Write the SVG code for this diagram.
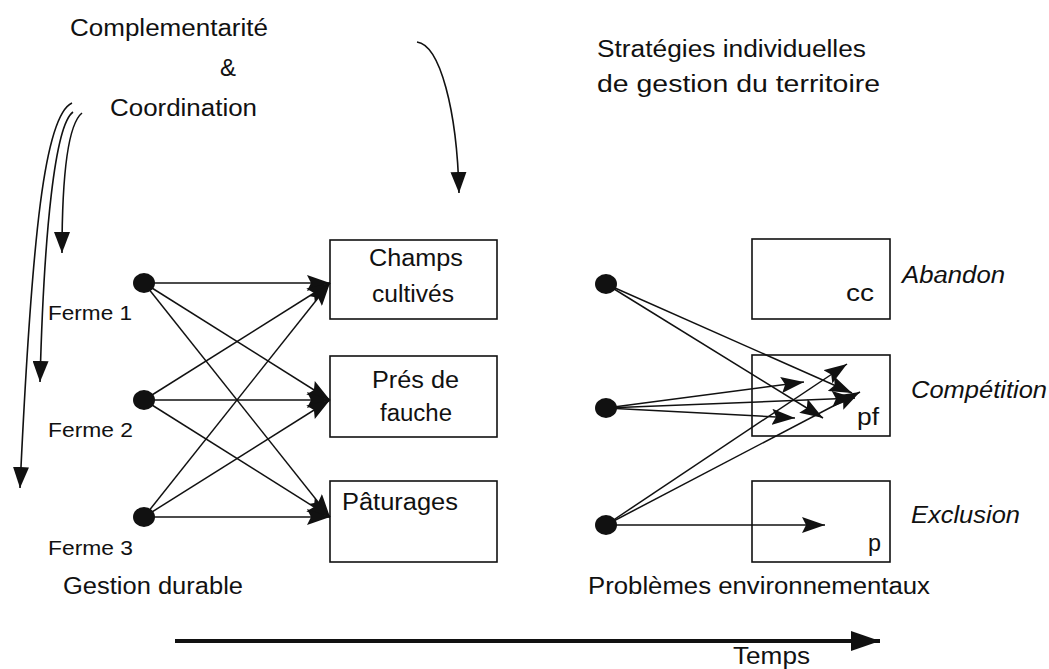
<svg xmlns="http://www.w3.org/2000/svg" width="1049" height="669" viewBox="0 0 1049 669">
<defs>
<style>
text{font-family:"Liberation Sans",Arial,sans-serif;fill:#111}
.t{font-size:23px}
.s{font-size:21px}
.i{font-size:23px;font-style:italic}
.box{fill:none;stroke:#111;stroke-width:1.6}
.dot{fill:#111}
.e{stroke:#111;stroke-width:1.5;fill:none;marker-end:url(#ah)}
.c{stroke:#111;stroke-width:1.6;fill:none;marker-end:url(#ahb)}
</style>
<marker id="ah" markerUnits="userSpaceOnUse" markerWidth="24" markerHeight="16" refX="23" refY="8" orient="auto">
<path d="M0,0 L23,8 L0,16 L4,8 z" fill="#111"/>
</marker>
<marker id="ahb" markerUnits="userSpaceOnUse" markerWidth="22" markerHeight="16" refX="21" refY="8" orient="auto">
<path d="M0,0 L21,8 L0,16 z" fill="#111"/>
</marker>
<marker id="aht" markerUnits="userSpaceOnUse" markerWidth="30" markerHeight="20" refX="29" refY="10" orient="auto">
<path d="M0,0 L29,10 L0,20 z" fill="#111"/>
</marker>
</defs>
<rect width="1049" height="669" fill="#fff"/>

<g id="titles">
<text class="t" x="70" y="36" textLength="198" lengthAdjust="spacingAndGlyphs">Complementarité</text>
<text class="t" x="220" y="76" textLength="16" lengthAdjust="spacingAndGlyphs">&amp;</text>
<text class="t" x="110" y="116" textLength="147" lengthAdjust="spacingAndGlyphs">Coordination</text>
<text class="t" x="597" y="57" textLength="269" lengthAdjust="spacingAndGlyphs">Stratégies individuelles</text>
<text class="t" x="597" y="92" textLength="283" lengthAdjust="spacingAndGlyphs">de gestion du territoire</text>
<text class="t" x="63" y="594" textLength="180" lengthAdjust="spacingAndGlyphs">Gestion durable</text>
<text class="t" x="588" y="594" textLength="342" lengthAdjust="spacingAndGlyphs">Problèmes environnementaux</text>
<text class="t" x="733" y="664" textLength="77" lengthAdjust="spacingAndGlyphs">Temps</text>
</g>

<g id="connectors">
<path class="c" d="M72,103 C45,115 32,230 20,488"/>
<path class="c" d="M73,112 C55,125 44,230 40,382"/>
<path class="c" d="M82,113 C67,125 62,180 62,253"/>
<path class="c" d="M417,42 C440,45 457,110 459,193"/>
<line x1="175" y1="641" x2="880" y2="641" stroke="#111" stroke-width="4" marker-end="url(#aht)"/>

<line class="e" x1="144" y1="283" x2="330" y2="283"/>
<line class="e" x1="144" y1="283" x2="330" y2="400"/>
<line class="e" x1="144" y1="283" x2="330" y2="517"/>
<line class="e" x1="144" y1="400" x2="330" y2="283"/>
<line class="e" x1="144" y1="400" x2="330" y2="400"/>
<line class="e" x1="144" y1="400" x2="330" y2="517"/>
<line class="e" x1="144" y1="517" x2="330" y2="283"/>
<line class="e" x1="144" y1="517" x2="330" y2="400"/>
<line class="e" x1="144" y1="517" x2="330" y2="517"/>

<line class="e" x1="606" y1="284" x2="852" y2="393"/>
<line class="e" x1="606" y1="284" x2="823" y2="418"/>
<line class="e" x1="606" y1="408" x2="804" y2="382"/>
<line class="e" x1="606" y1="408" x2="855" y2="398"/>
<line class="e" x1="606" y1="408" x2="795" y2="418"/>
<line class="e" x1="606" y1="525" x2="847" y2="364"/>
<line class="e" x1="606" y1="525" x2="860" y2="392"/>
<line class="e" x1="606" y1="525" x2="825" y2="525"/>
</g>

<g id="champs">
<rect class="box" x="330" y="240" width="167" height="79"/>
<text class="t" x="369" y="266" textLength="94" lengthAdjust="spacingAndGlyphs">Champs</text>
<text class="t" x="372" y="302" textLength="82" lengthAdjust="spacingAndGlyphs">cultivés</text>
</g>
<g id="pres">
<rect class="box" x="330" y="356" width="167" height="81"/>
<text class="t" x="372" y="388" textLength="87" lengthAdjust="spacingAndGlyphs">Prés de</text>
<text class="t" x="380" y="421" textLength="72" lengthAdjust="spacingAndGlyphs">fauche</text>
</g>
<g id="paturages">
<rect class="box" x="330" y="481" width="167" height="81"/>
<text class="t" x="342" y="510" textLength="116" lengthAdjust="spacingAndGlyphs">Pâturages</text>
</g>

<g id="ferme1"><ellipse class="dot" cx="144" cy="283" rx="11" ry="10"/><text class="s" x="48" y="320" textLength="84" lengthAdjust="spacingAndGlyphs">Ferme 1</text></g>
<g id="ferme2"><ellipse class="dot" cx="144" cy="400" rx="11" ry="10"/><text class="s" x="48" y="437" textLength="85" lengthAdjust="spacingAndGlyphs">Ferme 2</text></g>
<g id="ferme3"><ellipse class="dot" cx="144" cy="517" rx="11" ry="10"/><text class="s" x="48" y="555" textLength="85" lengthAdjust="spacingAndGlyphs">Ferme 3</text></g>

<g id="cc">
<rect class="box" x="752" y="239" width="138" height="80"/>
<text class="t" x="846" y="301" textLength="28" lengthAdjust="spacingAndGlyphs">cc</text>
</g>
<g id="pf">
<rect class="box" x="752" y="355" width="138" height="81"/>
<text class="t" x="857" y="425" textLength="22" lengthAdjust="spacingAndGlyphs">pf</text>
</g>
<g id="p">
<rect class="box" x="752" y="481" width="138" height="81"/>
<text class="t" x="868" y="551" textLength="13" lengthAdjust="spacingAndGlyphs">p</text>
</g>

<g id="outcomes">
<text class="i" x="902" y="283" textLength="103" lengthAdjust="spacingAndGlyphs">Abandon</text>
<text class="i" x="911" y="398" textLength="136" lengthAdjust="spacingAndGlyphs">Compétition</text>
<text class="i" x="911" y="523" textLength="109" lengthAdjust="spacingAndGlyphs">Exclusion</text>
</g>

<g id="dotsR">
<ellipse class="dot" cx="606" cy="284" rx="11" ry="10"/>
<ellipse class="dot" cx="606" cy="408" rx="11" ry="10"/>
<ellipse class="dot" cx="606" cy="525" rx="11" ry="10"/>
</g>
</svg>
